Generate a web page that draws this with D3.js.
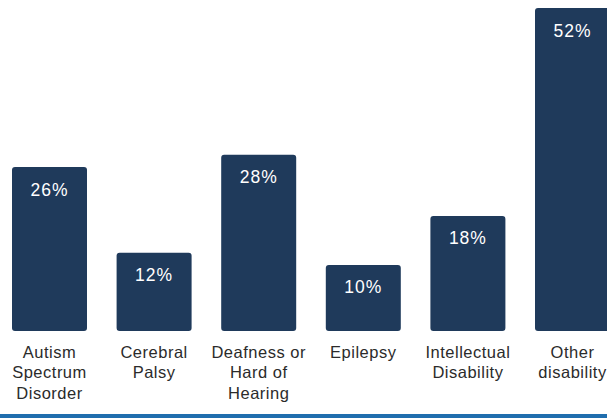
<!DOCTYPE html>
<html>
<head>
<meta charset="utf-8">
<script src="https://cdn.jsdelivr.net/npm/d3@7"></script>
<style>
  html, body { margin: 0; padding: 0; background: #fff; overflow: hidden; }
  svg { display: block; }
</style>
</head>
<body>
<svg width="607" height="418"></svg>
<script>
// disability categories (label lines) and share of students
var categories = [
  ["Autism", "Spectrum", "Disorder"],
  ["Cerebral", "Palsy"],
  ["Deafness or", "Hard of", "Hearing"],
  ["Epilepsy"],
  ["Intellectual", "Disability"],
  ["Other", "disability"]
];
var values = [26, 12, 28, 10, 18, 52];
var valueLabels = ["26%", "12%", "28%", "10%", "18%", "52%"];

var svg = d3.select("svg"),
    width = +svg.attr("width"),
    height = +svg.attr("height");

var barColor = "#1f3a5b";

var x = d3.scaleBand()
    .domain(d3.range(values.length))
    .range([-2.8, 624.8])
    .paddingInner(0.283)
    .paddingOuter(0.1415);

var y = d3.scaleLinear()
    .domain([-0.8, 52])
    .range([331, 8]);

var bars = svg.append("g")
    .attr("class", "bars")
  .selectAll("rect")
  .data(values)
  .enter().append("rect")
    .attr("x", function(d, i) { return x(i); })
    .attr("y", function(d) { return y(d); })
    .attr("width", x.bandwidth())
    .attr("height", function(d) { return y(-0.8) - y(d); })
    .attr("rx", 3)
    .attr("fill", barColor);

svg.append("g")
    .attr("class", "values")
  .selectAll("text")
  .data(values)
  .enter().append("text")
    .attr("x", function(d, i) { return x(i) + x.bandwidth() / 2; })
    .attr("y", function(d) { return y(d) + 28.5; })
    .attr("text-anchor", "middle")
    .attr("fill", "#fff")
    .style("font-family", "'Liberation Sans', Arial, sans-serif")
    .style("font-size", "17.5px")
    .style("letter-spacing", "1px")
    .text(function(d, i) { return valueLabels[i]; });

// category labels under the bars
var labels = svg.append("g")
    .attr("class", "labels")
  .selectAll("text")
  .data(categories)
  .enter().append("text")
    .attr("text-anchor", "middle")
    .attr("fill", "#2b2b2b")
    .style("font-family", "'Liberation Sans', Arial, sans-serif")
    .style("font-size", "16.5px")
    .style("letter-spacing", "0.5px");

labels.selectAll("tspan")
  .data(function(d, i) { return d.map(function(line) { return {line: line, i: i}; }); })
  .enter().append("tspan")
    .attr("x", function(d) { return x(d.i) + x.bandwidth() / 2; })
    .attr("y", function(d, j) { return 357.5 + j * 20.5; })
    .text(function(d) { return d.line; });

// blue rule at the bottom
svg.append("rect")
    .attr("x", 0)
    .attr("y", 414)
    .attr("width", width)
    .attr("height", 4)
    .attr("fill", "#1f6eae");
</script>
</body>
</html>
